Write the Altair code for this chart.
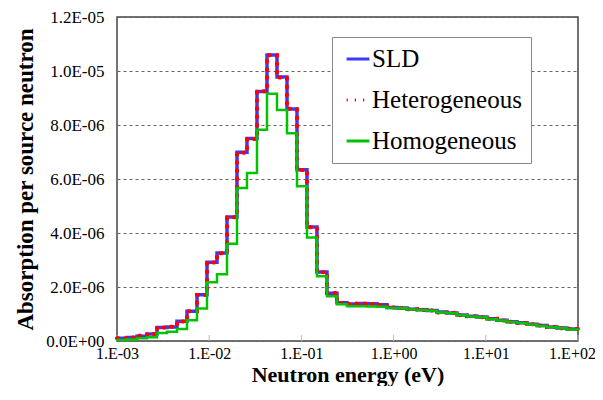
import altair as alt
import pandas as pd

# Bin edges (eV) (equal lethargy steps)
edges = [0.001, 0.001284, 0.001648, 0.002116, 0.002716, 0.003487, 0.004476, 0.005745,
         0.007375, 0.009465, 0.01215, 0.0156, 0.02002, 0.0257, 0.03299, 0.04234,
         0.05436, 0.06978, 0.08957, 0.115, 0.1476, 0.1895, 0.2432, 0.3122, 0.4009,
         0.5146, 0.6607, 0.8481, 1.089, 1.398, 1.794, 2.303, 2.956, 3.795, 4.871,
         6.254, 8.028, 10.3, 13.23, 16.98, 21.8, 27.98, 35.92, 46.11, 59.19, 75.98, 100]

# Absorption per source neutron, in units of 1e-6
sld = [0.10, 0.13, 0.18, 0.26, 0.50, 0.52, 0.73, 1.10, 1.71, 2.92,
       3.26, 4.59, 6.99, 7.50, 9.24, 10.59, 9.78, 8.59, 6.34, 4.22,
       2.56, 1.77, 1.42, 1.37, 1.39, 1.38, 1.34, 1.24, 1.22, 1.18,
       1.16, 1.13, 1.07, 1.04, 0.96, 0.92, 0.89, 0.82, 0.77, 0.71,
       0.68, 0.62, 0.57, 0.52, 0.48, 0.44]
het = [0.10, 0.13, 0.19, 0.26, 0.50, 0.53, 0.72, 1.10, 1.70, 2.91,
       3.25, 4.58, 6.97, 7.48, 9.25, 10.58, 9.76, 8.60, 6.33, 4.21,
       2.55, 1.78, 1.41, 1.37, 1.38, 1.37, 1.33, 1.24, 1.22, 1.18,
       1.15, 1.13, 1.06, 1.04, 0.95, 0.92, 0.88, 0.82, 0.76, 0.71,
       0.67, 0.62, 0.57, 0.52, 0.47, 0.44]
hom = [0.04, 0.06, 0.10, 0.14, 0.30, 0.34, 0.44, 0.77, 1.20, 2.18,
       2.47, 3.60, 5.67, 6.22, 7.82, 9.16, 8.56, 7.69, 5.73, 3.83,
       2.40, 1.66, 1.36, 1.29, 1.29, 1.28, 1.27, 1.22, 1.21, 1.17,
       1.15, 1.12, 1.06, 1.03, 0.95, 0.91, 0.88, 0.81, 0.76, 0.70,
       0.67, 0.61, 0.56, 0.51, 0.47, 0.43]

series_names = ["SLD", "Heterogeneous", "Homogeneous"]
series_colors = ["#3a3aff", "#ff0000", "#00c400"]
series_dash = [[1, 0], [1.2, 7], [1, 0]]
series_width = [3.5, 4, 2.5]

x_ticks = [0.001, 0.01, 0.1, 1, 10, 100]
x_tick_labels = ["1.E-03", "1.E-02", "1.E-01", "1.E+00", "1.E+01", "1.E+02"]
y_ticks = [0, 2e-6, 4e-6, 6e-6, 8e-6, 1e-5, 1.2e-5]
y_tick_labels = ["0.0E+00", "2.0E-06", "4.0E-06", "6.0E-06", "8.0E-06", "1.0E-05", "1.2E-05"]

rows = []
for name, vals in zip(series_names, [sld, het, hom]):
    for e, v in zip(edges[:-1], vals):
        rows.append({"energy": e, "value": v * 1e-6, "series": name})
    rows.append({"energy": edges[-1], "value": vals[-1] * 1e-6, "series": name})
df = pd.DataFrame(rows)

FONT = "Liberation Serif, Times New Roman, serif"

x_label_expr = "[" + ",".join(f"'{l}'" for l in x_tick_labels) + "][round(log(datum.value)/LN10)+3]"
y_label_expr = "[" + ",".join(f"'{l}'" for l in y_tick_labels) + "][round(datum.value/2e-6)]"

x_enc = alt.X("energy:Q",
              scale=alt.Scale(type="log", domain=[0.001, 100], nice=False),
              axis=alt.Axis(values=x_ticks, labelExpr=x_label_expr, title="Neutron energy (eV)",
                            grid=False, ticks=False, domain=False, labelPadding=4,
                            labelOffset=alt.expr("datum.value > 50 ? -6 : 0"),
                            labelFont=FONT, labelFontSize=16, labelColor="black",
                            titleFont=FONT, titleFontSize=22, titleFontWeight="bold",
                            titleColor="black", titlePadding=3, labelOverlap=False,
                            labelFlush=False))
y_enc = alt.Y("value:Q",
              scale=alt.Scale(domain=[0, 1.2e-5], nice=False),
              axis=alt.Axis(values=y_ticks, labelExpr=y_label_expr,
                            title="Absorption per source neutron",
                            grid=True, gridDash=[3, 3], gridColor="#666", gridWidth=1,
                            ticks=False, domain=False, labelPadding=13,
                            labelFont=FONT, labelFontSize=17, labelColor="black",
                            titleFont=FONT, titleFontSize=23, titleFontWeight="bold",
                            titleColor="black", titlePadding=8, labelOverlap=False,
                            labelFlush=False))

legend = alt.Legend(title=None, orient="none", legendX=215, legendY=20,
                    symbolType="stroke", symbolSize=520, symbolStrokeWidth=3,
                    symbolOffset=4,
                    labelExpr="datum.label + '\u00a0\u00a0'",
                    labelFont=FONT, labelFontSize=25, labelColor="black",
                    labelOffset=1, rowPadding=15, padding=9,
                    strokeColor="#888", fillColor="white")

color_enc = alt.Color("series:N", scale=alt.Scale(domain=series_names, range=series_colors),
                      legend=legend)
dash_enc = alt.StrokeDash("series:N", scale=alt.Scale(domain=series_names, range=series_dash),
                          legend=legend)

base = alt.Chart(df)
layers = []
# inward decade tick marks on the x axis
ticks_df = pd.DataFrame({"energy": x_ticks})
layers.append(alt.Chart(ticks_df).mark_rule(color="#bbbbbb", strokeWidth=1).encode(
    x=x_enc, y=alt.value(324), y2=alt.value(318)))
for name, w in zip(series_names, series_width):
    layers.append(
        base.transform_filter(alt.datum.series == name)
        .mark_line(interpolate="step-after", strokeWidth=w, strokeCap="round",
                   strokeJoin="miter")
        .encode(x=x_enc, y=y_enc, color=color_enc, strokeDash=dash_enc,
                order=alt.Order("energy:Q"))
    )

chart = alt.layer(*layers).properties(
    width=461, height=324,
    autosize=alt.AutoSizeParams(type="none"),
    padding={"left": 109, "top": 9, "right": 17, "bottom": 45},
).configure_view(stroke="#444", strokeWidth=1.5)

chart.save("out.html", embed_options={"renderer": "svg", "actions": False})
